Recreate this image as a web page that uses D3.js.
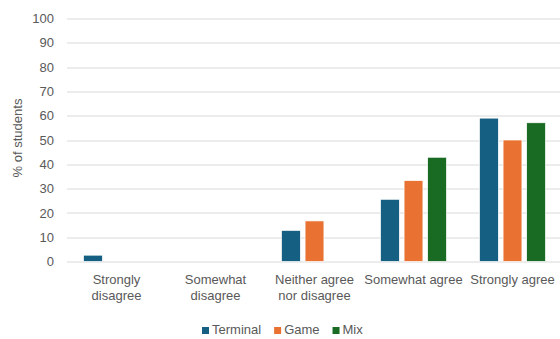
<!DOCTYPE html>
<html>
<head>
<meta charset="utf-8">
<script src="https://cdn.jsdelivr.net/npm/d3@7"></script>
<style>
  body { margin: 0; background: #fff; }
  svg text { font-family: "Liberation Sans", Arial, sans-serif; fill: #595959; }
</style>
</head>
<body>
<div id="chart"></div>
<script>
// ---- data ----
const categories = [
    ["Strongly", "disagree"],
    ["Somewhat", "disagree"],
    ["Neither agree", "nor disagree"],
    ["Somewhat agree"],
    ["Strongly agree"]
];
const seriesNames = ["Terminal", "Game", "Mix"];
const terminal = [2.6, 0, 12.8, 25.6, 59.0];
const game = [0, 0, 16.7, 33.3, 50.0];
const mix = [0, 0, 0, 42.9, 57.1];
const yTicks = [0, 10, 20, 30, 40, 50, 60, 70, 80, 90, 100];
const colors = ["#156082", "#e97132", "#196b24"];

const W = 560, H = 339;
const margin = { top: 18.5, right: -2, bottom: 77.5, left: 67 };
const width = W - margin.left - margin.right;
const height = H - margin.top - margin.bottom;

const svg = d3.select("#chart").append("svg")
    .attr("width", W)
    .attr("height", H);

const g = svg.append("g")
    .attr("transform", `translate(${margin.left},${margin.top})`);

const x0 = d3.scaleBand()
    .domain(d3.range(categories.length))
    .range([0, width]);

const x1 = d3.scaleBand()
    .domain(seriesNames)
    .range([x0.bandwidth() / 2 - 33, x0.bandwidth() / 2 + 33])
    .paddingInner(0.2);

const y = d3.scaleLinear()
    .domain([0, 100])
    .range([height, 0]);

// gridlines
g.append("g")
    .selectAll("line")
    .data(yTicks)
    .join("line")
    .attr("x1", 0)
    .attr("x2", W - margin.left)
    .attr("y1", d => Math.round(y(d)) + 0.5)
    .attr("y2", d => Math.round(y(d)) + 0.5)
    .attr("stroke", "#d9d9d9")
    .attr("stroke-width", 1.2);

// y axis labels
const yAxis = g.append("g")
    .call(d3.axisLeft(y).tickValues(yTicks).tickSize(0).tickPadding(13));
yAxis.select(".domain").remove();
yAxis.selectAll("text")
    .attr("font-size", "13px")
    .attr("font-family", null)
    .attr("fill", null);

// bars
const rows = categories.map((c, i) => ({
    i,
    values: [terminal[i], game[i], mix[i]]
}));

g.selectAll("g.cat")
    .data(rows)
    .join("g")
    .attr("class", "cat")
    .attr("transform", d => `translate(${x0(d.i)},0)`)
    .selectAll("rect")
    .data(d => d.values.map((v, k) => ({ v, k })).filter(e => e.v > 0))
    .join("rect")
    .attr("x", d => x1(seriesNames[d.k]))
    .attr("width", x1.bandwidth())
    .attr("y", d => y(d.v))
    .attr("height", d => y(0) - y(d.v))
    .attr("fill", d => colors[d.k])
    .attr("stroke", "#fff")
    .attr("stroke-width", 0.7);

// category labels
const catLabels = g.append("g")
    .selectAll("text")
    .data(categories)
    .join("text")
    .attr("x", (d, i) => x0(i) + x0.bandwidth() / 2)
    .attr("y", height + 22)
    .attr("text-anchor", "middle")
    .attr("font-size", "13px");
catLabels.selectAll("tspan")
    .data(d => d)
    .join("tspan")
    .attr("x", function () { return d3.select(this.parentNode).attr("x"); })
    .attr("dy", (d, i) => i === 0 ? 0 : 16)
    .text(d => d);

// y axis title
svg.append("text")
    .attr("transform", `translate(22,${margin.top + height / 2 - 2}) rotate(-90)`)
    .attr("text-anchor", "middle")
    .attr("font-size", "13px")
    .text("% of students");

// legend
const legend = svg.append("g")
    .attr("transform", "translate(202,334)");
let lx = 0;
seriesNames.forEach((name, k) => {
    const item = legend.append("g").attr("transform", `translate(${lx},0)`);
    item.append("rect")
        .attr("x", 0)
        .attr("y", -7)
        .attr("width", 7)
        .attr("height", 7)
        .attr("fill", colors[k]);
    const t = item.append("text")
        .attr("x", 10)
        .attr("y", 0)
        .attr("font-size", "13px")
        .text(name);
    lx += 10 + t.node().getComputedTextLength() + 13;
});
</script>
</body>
</html>
